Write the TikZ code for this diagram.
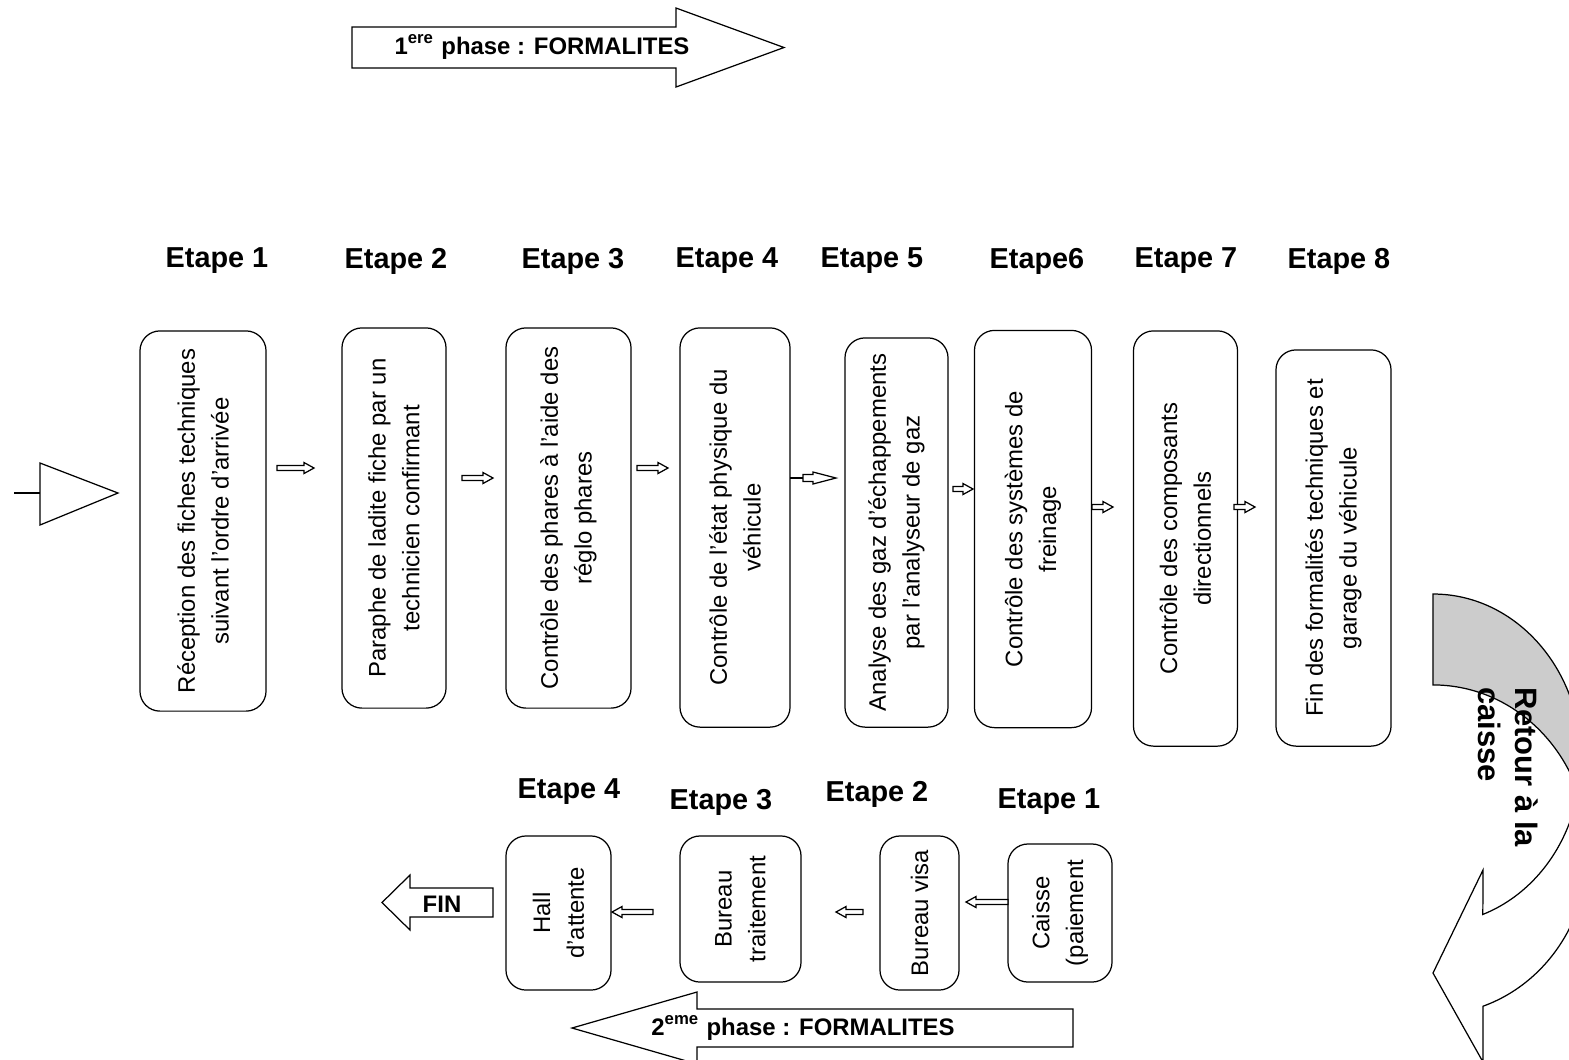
\documentclass[tikz,border=0pt]{standalone}
\usepackage{fontspec}
\setmainfont{Liberation Sans}

\begin{document}
\begin{tikzpicture}[x=0.01cm, y=0.01cm, line width=0.35pt,
		boite/.style={draw, rounded corners=0.2cm, rotate=90, align=center, inner sep=0pt, font=\fontsize{6.8}{9.6}\selectfont},
		etape/.style={font=\fontsize{8.2}{10}\selectfont\bfseries},
		phase/.style={font=\fontsize{6.8}{8}\selectfont\bfseries, inner sep=0pt},
		bloc/.style={draw, fill=white},
		fleche/.pic={\draw[fill=white] (0,-2.5) -- (#1-10,-2.5) -- (#1-10,-5.5) -- (#1,0) -- (#1-10,5.5) -- (#1-10,2.5) -- (0,2.5) -- cycle;}]
		
		\useasboundingbox (0,0) rectangle (1569,-1059);
		\clip (0,0) rectangle (1569,-1059);
		
		% Phases
		\draw[bloc] (352,-27) -- (676,-27) -- (676,-8) -- (784,-47.5) -- (676,-87) -- (676,-68) -- (352,-68) -- cycle;
		\node[phase] (phase1) at (542,-47) {1\textsuperscript{ere} phase : FORMALITES};
		
		\draw[bloc] (1073,-1009) -- (697,-1009) -- (697,-992) -- (572,-1028) -- (697,-1064) -- (697,-1047) -- (1073,-1047) -- cycle;
		\node[phase] (phase2) at (803,-1028) {2\textsuperscript{eme} phase : FORMALITES};
		
		% Etapes
		\node[etape] (et1) at (217,-261) {Etape 1};
		\node[etape] (et2) at (396,-261) {Etape 2};
		\node[etape] (et3) at (573,-261) {Etape 3};
		\node[etape] (et4) at (727,-261) {Etape 4};
		\node[etape] (et5) at (872,-261) {Etape 5};
		\node[etape] (et6) at (1037,-261) {Etape6};
		\node[etape] (et7) at (1186,-261) {Etape 7};
		\node[etape] (et8) at (1339,-261) {Etape 8};
		
		\node[etape] (fet4) at (569,-792) {Etape 4};
		\node[etape] (fet3) at (721,-802) {Etape 3};
		\node[etape] (fet2) at (877,-794) {Etape 2};
		\node[etape] (fet1) at (1049,-802) {Etape 1};
		
		% Nodes
		\node[boite, minimum width=3.8cm, minimum height=1.26cm] (B1) at (203,-521) {Réception des fiches techniques\\suivant l’ordre d’arrivée};
		\node[boite, minimum width=3.8cm, minimum height=1.04cm] (B2) at (394,-518) {Paraphe de ladite fiche par un\\technicien confirmant};
		\node[boite, minimum width=3.8cm, minimum height=1.25cm] (B3) at (568.5,-518) {Contrôle des phares à l’aide des\\réglo phares};
		\node[boite, minimum width=3.99cm, minimum height=1.1cm] (B4) at (735,-527.5) {Contrôle de l’état physique du\\véhicule};
		\node[boite, minimum width=3.89cm, minimum height=1.03cm] (B5) at (896.5,-532.5) {Analyse des gaz d’échappements\\par l’analyseur de gaz};
		\node[boite, minimum width=3.97cm, minimum height=1.17cm] (B6) at (1033,-529) {Contrôle des systèmes de\\freinage};
		\node[boite, minimum width=4.15cm, minimum height=1.04cm] (B7) at (1185.5,-538.5) {Contrôle des composants\\directionnels};
		\node[boite, minimum width=3.96cm, minimum height=1.15cm] (B8) at (1333.5,-548) {Fin des formalités techniques et\\garage du véhicule};
		
		\node[boite, minimum width=1.54cm, minimum height=1.05cm] (hall) at (558.5,-913) {Hall\\d’attente};
		\node[boite, minimum width=1.46cm, minimum height=1.21cm] (traitement) at (740.5,-909) {Bureau\\traitement};
		\node[boite, minimum width=1.54cm, minimum height=0.79cm] (visa) at (919.5,-913) {Bureau visa};
		\node[boite, minimum width=1.38cm, minimum height=1.04cm] (caisse) at (1060,-913) {Caisse\\(paiement};
		
		% Arrows
		\draw (14,-493) -- (40,-493);
		\draw (40,-463) -- (118,-493) -- (40,-525) -- cycle;
		
		\pic (a12) at (277,-468) {fleche=37};
		\pic (a23) at (462,-478) {fleche=31};
		\pic (a34) at (637,-468) {fleche=31};
		\draw (790,-478) -- (803,-478);
		\draw[fill=white] (803,-474.5) -- (813,-474.5) -- (813,-472) -- (836,-478) -- (813,-484) -- (813,-481.5) -- (803,-481.5) -- cycle;
		\pic (a56) at (953,-489) {fleche=20};
		\pic (a67) at (1092,-507) {fleche=21};
		\pic (a78) at (1234,-507) {fleche=21};
		
		\pic[xscale=-1] (ath) at (653,-912) {fleche=41};
		\pic[xscale=-1] (avt) at (863,-912) {fleche=27};
		\pic[xscale=-1] (acv) at (1008,-902) {fleche=42};
		
		\draw[bloc] (493,-888) -- (410,-888) -- (410,-875) -- (382,-902.5) -- (410,-930) -- (410,-917) -- (493,-917) -- cycle;
		\node[phase] (fin) at (442,-904) {FIN};
		
		% Retour a la caisse
		\draw[fill=gray!40] (1433,-594) arc[start angle=90, end angle=0, x radius=1.48cm, y radius=1.65cm] -- (1588,-850) arc[start angle=0, end angle=90, x radius=1.55cm, y radius=1.65cm] -- cycle;
		\draw[fill=white] (1581,-759) arc[start angle=0, end angle=-70.3, x radius=1.48cm, y radius=1.65cm] -- (1483,-870) -- (1433,-973) -- (1483,-1062) -- (1483,-1006.2) arc[start angle=-71.2, end angle=0, x radius=1.55cm, y radius=1.65cm] -- cycle;
		\node[font=\fontsize{8.8}{10.5}\selectfont\bfseries, rotate=-90, align=left, inner sep=0pt] (retour) at (1508,-767) {Retour à la\\caisse};
		
\end{tikzpicture}
\end{document}
